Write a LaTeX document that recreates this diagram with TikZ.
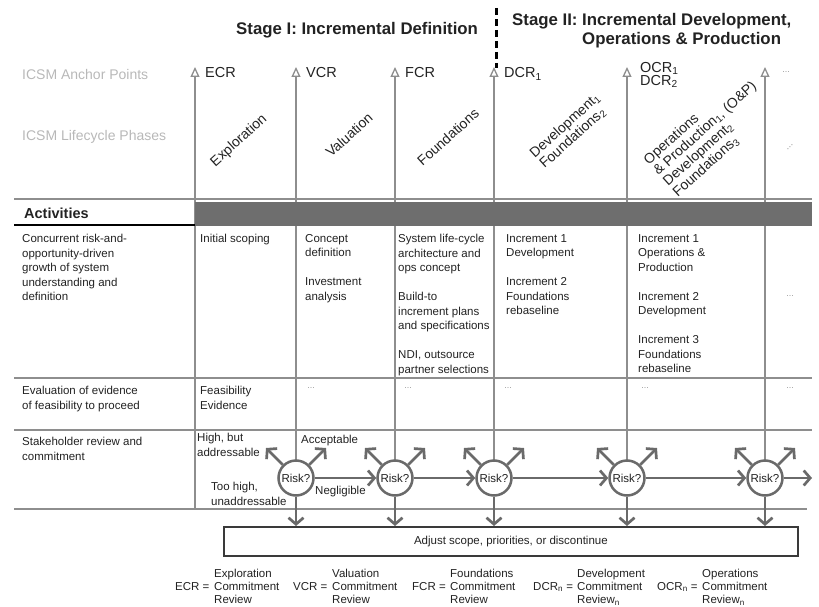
\documentclass[tikz,border=0pt]{standalone}
\usepackage{fontspec}
\setmainfont{Liberation Sans}
\usetikzlibrary{arrows.meta}
\definecolor{lineGray}{HTML}{8E8E8E}
\definecolor{bandGray}{HTML}{6E6E6E}
\definecolor{riskGray}{HTML}{6A6A6A}
\definecolor{boxGray}{HTML}{3A3A3A}
\definecolor{txt}{HTML}{222222}
\definecolor{lblGray}{HTML}{B8B8B8}
\definecolor{dotGray}{HTML}{9A9A9A}
\tikzset{
 gridline/.style={draw=lineGray, line width=1.8pt},
 anchorline/.style={draw=lineGray, line width=1.8pt, -{Triangle[open, length=10pt, width=9pt, line width=1.3pt]}},
 riskc/.style={circle, draw=riskGray, line width=2.5pt, minimum size=35pt, inner sep=0pt, fill=white, text=txt, font=\fontsize{11.5}{12}\selectfont},
 riskarrow/.style={draw=riskGray, line width=2.7pt, -{Straight Barb[length=6.5pt, width=15pt, line width=2.7pt]}},
 cell/.style={anchor=north west, inner sep=0pt, align=left, text=txt, font=\fontsize{11.5}{14.5}\selectfont},
 dotstxt/.style={inner sep=0pt, text=dotGray, font=\fontsize{9}{10}\selectfont},
 anchorlbl/.style={anchor=base west, inner sep=0pt, text=txt, font=\fontsize{14.5}{13}\selectfont},
 phase/.style={rotate=42, align=left, inner sep=0pt, text=txt, font=\fontsize{14}{14.5}\selectfont},
 sidelbl/.style={anchor=base west, inner sep=0pt, text=lblGray, font=\fontsize{14}{16}\selectfont},
 stagetitle/.style={anchor=base west, inner sep=0pt, text=txt, font=\fontsize{16.8}{19}\selectfont\bfseries},
 legendtxt/.style={inner sep=0pt, text=txt, font=\fontsize{11.5}{13}\selectfont},
}
\begin{document}
\begin{tikzpicture}[x=1pt,y=-1pt]
\useasboundingbox (0,0) rectangle (819,607);

% stage titles
\node[stagetitle] (st1) at (236,35) {Stage I: Incremental Definition};
\node[stagetitle] (st2a) at (512,26) {Stage II: Incremental Development,};
\node[stagetitle] (st2b) at (582,45) {Operations \& Production};
\coordinate (dashtop) at (496,8);
\coordinate (dashbot) at (496,68);
\draw[black, line width=3pt, dash pattern=on 7pt off 4pt] (dashtop) -- (dashbot);

% side labels
\node[sidelbl] (lblA) at (22,80) {ICSM Anchor Points};
\node[sidelbl] (lblP) at (22,140) {ICSM Lifecycle Phases};

% anchor labels
\node[anchorlbl] (ecr) at (205,78) {ECR};
\node[anchorlbl] (vcr) at (306,78) {VCR};
\node[anchorlbl] (fcr) at (405,78) {FCR};
\node[anchorlbl] (dcr) at (504,78) {DCR\textsubscript{1}};
\node[anchorlbl, align=left, anchor=north west] (ocr) at (640,62) {OCR\textsubscript{1}\\DCR\textsubscript{2}};
\node[dotstxt] (adots) at (786,72) {...};

% phase labels
\node[phase] (ph1) at (239,141) {Exploration};
\node[phase] (ph2) at (349,135) {Valuation};
\node[phase] (ph3) at (448,137) {Foundations};
\node[phase] (ph4) at (570,131) {Development\textsubscript{1}\\Foundations\textsubscript{2}};
\node[phase] (ph5) at (710,134) {Operations\\\& Production\textsubscript{1}, (O\&P)\\Development\textsubscript{2}\\Foundations\textsubscript{3}};
\node[phase, text=dotGray, font=\fontsize{10}{10}\selectfont] (ph6) at (790,147) {...};

% table horizontal lines
\draw[gridline] (14,199) -- (812,199);
\draw[gridline] (14,378) -- (812,378);
\draw[gridline] (14,430) -- (812,430);
\draw[gridline] (14,509) -- (807,509);

% anchor lines
\foreach \i/\x in {1/296,2/395,3/494,4/627,5/765} {
  \coordinate (top\i) at (\x,67);
  \coordinate (ul\i) at (\x-30,448);
  \coordinate (ur\i) at (\x+30,448);
  \draw[anchorline] (\x,462) -- (top\i);
}
\coordinate (top0) at (195,67);
\coordinate (bot0) at (195,509);
\draw[anchorline] (bot0) -- (top0);

% activities band
\fill[bandGray] (195,202) rectangle (812,226);
\draw[black, line width=2.6pt] (14,225) -- (195,225);
\node[anchor=base west, inner sep=0pt, text=txt, font=\fontsize{14.5}{16}\selectfont\bfseries] (act) at (24,218) {Activities};

% row 1
\node[cell] (c1l) at (22,234) {Concurrent risk-and-\\opportunity-driven\\growth of system\\understanding and\\definition};
\node[cell] (c1a) at (200,234) {Initial scoping};
\node[cell] (c1b) at (305,234) {Concept\\definition\\[14.5pt]Investment\\analysis};
\node[cell] (c1c) at (398,234) {System life-cycle\\architecture and\\ops concept\\[14.5pt]Build-to\\increment plans\\and specifications\\[14.5pt]NDI, outsource\\partner selections};
\node[cell] (c1d) at (506,234) {Increment 1\\Development\\[14.5pt]Increment 2\\Foundations\\rebaseline};
\node[cell] (c1e) at (638,234) {Increment 1\\Operations \&\\Production\\[14.5pt]Increment 2\\Development\\[14.5pt]Increment 3\\Foundations\\rebaseline};
\node[dotstxt] (c1f) at (790,296) {...};

% row 2
\node[cell] (c2l) at (22,386) {Evaluation of evidence\\of feasibility to proceed};
\node[cell] (c2a) at (200,386) {Feasibility\\Evidence};
\node[dotstxt] (c2b) at (311,388) {...};
\node[dotstxt] (c2c) at (408,388) {...};
\node[dotstxt] (c2d) at (508,388) {...};
\node[dotstxt] (c2e) at (645,388) {...};
\node[dotstxt] (c2f) at (790,388) {...};

% row 3
\node[cell] (c3l) at (22,437) {Stakeholder review and\\commitment};
\node[cell] (hb) at (197,433) {High, but\\addressable};
\node[cell] (acc) at (301,435) {Acceptable};
\node[cell] (th) at (211,482) {Too high,\\unaddressable};
\node[cell] (neg) at (315,486) {Negligible};

% adjust box
\node[draw=boxGray, line width=1.8pt, minimum width=574pt, minimum height=29pt, inner sep=0pt, anchor=north west, text=txt, font=\fontsize{11.5}{14}\selectfont] (adj) at (223,526) {Adjust scope, priorities, or discontinue};

% risk nodes and arrows
\foreach \i/\x in {1/296,2/395,3/494,4/627,5/765} {
  \node[riskc] (r\i) at (\x,478) {Risk?};
}
\coordinate (rend) at (812,478);
\foreach \i in {1,...,5} {
  \draw[riskarrow] (r\i) -- (ul\i);
  \draw[riskarrow] (r\i) -- (ur\i);
  \draw[riskarrow] (r\i) -- (r\i |- adj.north);
}
\draw[riskarrow] (r1) -- (r2);
\draw[riskarrow] (r2) -- (r3);
\draw[riskarrow] (r3) -- (r4);
\draw[riskarrow] (r4) -- (r5);
\draw[riskarrow] (r5) -- (rend);

% legend
\node[legendtxt, anchor=base west] (le1) at (175,590) {ECR =};
\node[legendtxt, anchor=north west, align=left] (ld1) at (214,569) {Exploration\\Commitment\\Review};
\node[legendtxt, anchor=base west] (le2) at (293,590) {VCR =};
\node[legendtxt, anchor=north west, align=left] (ld2) at (332,569) {Valuation\\Commitment\\Review};
\node[legendtxt, anchor=base west] (le3) at (412,590) {FCR =};
\node[legendtxt, anchor=north west, align=left] (ld3) at (450,569) {Foundations\\Commitment\\Review};
\node[legendtxt, anchor=base west] (le4) at (533,590) {DCR\textsubscript{n} =};
\node[legendtxt, anchor=north west, align=left] (ld4) at (577,569) {Development\\Commitment\\Review\textsubscript{n}};
\node[legendtxt, anchor=base west] (le5) at (657,590) {OCR\textsubscript{n} =};
\node[legendtxt, anchor=north west, align=left] (ld5) at (702,569) {Operations\\Commitment\\Review\textsubscript{n}};
\end{tikzpicture}
\end{document}
